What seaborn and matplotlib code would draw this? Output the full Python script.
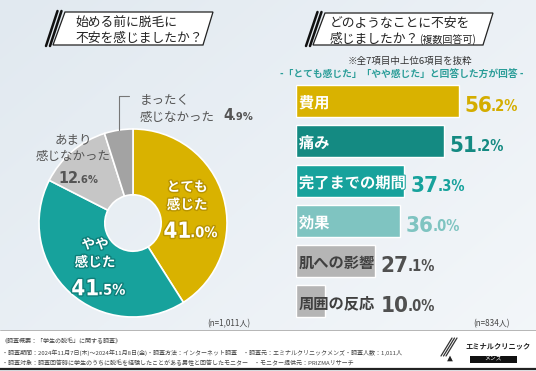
import matplotlib
matplotlib.use("Agg")
import matplotlib.pyplot as plt
import matplotlib.colors as mcolors
import matplotlib.patheffects as pe
from matplotlib.patches import Polygon, Rectangle
from matplotlib.lines import Line2D
from matplotlib.text import Annotation
import numpy as np
import pandas as pd
import seaborn as sns

# ---- data ----
pie_labels = ["とても\n感じた", "やや\n感じた", "あまり\n感じなかった", "まったく\n感じなかった"]
pie_values = [41.0, 41.5, 12.6, 4.9]
pie_colors = ["#d9b200", "#17a29c", "#c6c6c6", "#a3a3a3"]

bar_labels = ["費用", "痛み", "完了までの期間", "効果", "肌への影響", "周囲の反応"]
bar_values = [56.2, 51.2, 37.3, 36.0, 27.1, 10.0]
bar_colors = ["#d9b200", "#148a82", "#17a29c", "#7fc4c1", "#b5b5b5", "#b5b5b5"]
value_colors = ["#d4ad00", "#148a82", "#17a29c", "#7fc4c1", "#505050", "#505050"]

title_left = ["始める前に脱毛に", "不安を感じましたか？"]
title_right = ["どのようなことに不安を", "感じましたか？", "(複数回答可)"]
note1 = "※全7項目中上位6項目を抜粋"
note2 = "-「とても感じた」「やや感じた」と回答した方が回答 -"
n_left = "(n=1,011人)"
n_right = "(n=834人)"
footer = [
    "《調査概要：「学生の脱毛」に関する調査》",
    "・調査期間：2024年11月7日(木)〜2024年11月8日(金)・調査方法：インターネット調査　・調査元：エミナルクリニックメンズ・調査人数：1,011人",
    "・調査対象：調査回答時に学生のうちに脱毛を経験したことがある男性と回答したモニター　・モニター提供元：PRIZMAリサーチ",
]

sns.set_theme(style="white")
plt.rcParams['font.family'] = ['Noto Sans CJK JP', 'DejaVu Sans']
NUM_FONT = ['DejaVu Sans']

W, H = 536, 371
fig = plt.figure(figsize=(W / 100, H / 100), dpi=100)


def px(x, y):
    return x / W, 1 - y / H


# background gradient
bg = fig.add_axes([0, 0, 1, 1], zorder=-10)
yy, xx = np.mgrid[0:1:200j, 0:1:300j]
t = 0.55 * xx + 0.45 * yy
c0 = np.array(mcolors.to_rgb("#e1e9f0"))
c1 = np.array(mcolors.to_rgb("#f4f7fa"))
bg.imshow(c0 + (c1 - c0) * t[..., None], extent=[0, 1, 0, 1], aspect='auto')
bg.axis('off')


def title_box(pts, slashes):
    fig.add_artist(Polygon([px(*p) for p in pts], closed=True, transform=fig.transFigure,
                           facecolor='white', edgecolor='#222222', lw=0.9))
    for x0, y0, x1, y1 in slashes:
        a, b = px(x0, y0), px(x1, y1)
        fig.add_artist(Line2D([a[0], b[0]], [a[1], b[1]], color='#111111', lw=1.8,
                              transform=fig.transFigure))


title_box([(65, 12), (213, 12), (203, 45), (53, 45)], [(57.5, 11, 46, 46), (61.5, 11, 50, 46)])
title_box([(325, 13), (493, 13), (483, 45), (313, 45)], [(317.5, 12, 306, 46), (321.5, 12, 310, 46)])

fig.text(*px(75, 23), title_left[0], fontsize=9.2, va='center', color='#222222')
fig.text(*px(75, 38.5), title_left[1], fontsize=9.2, va='center', color='#222222')
fig.text(*px(330, 24), title_right[0], fontsize=9.2, va='center', color='#222222')
tq = fig.text(*px(330, 39.5), title_right[1], fontsize=9.2, va='center', color='#222222')
fig.add_artist(Annotation(title_right[2], xy=(1, 0.5), xycoords=tq, fontsize=7.2,
                          color='#222222', va='center', ha='left'))

fig.text(*px(410, 61), note1, fontsize=6.8, ha='center', va='center', color='#333333')
fig.text(*px(402, 74), note2, fontsize=7, ha='center', va='center', color='#2a9d98', fontweight='bold')


def pct_text(ax, xy, val, big, small, color, coords='data', offset=(0, 0), ha='left', stroke=None):
    whole, dec = f"{val:.1f}".split(".")
    kw = dict(color=color, family=NUM_FONT, fontweight='bold', fontstretch='condensed')
    if stroke:
        kw['path_effects'] = [pe.withStroke(linewidth=2, foreground=stroke)]
    t1 = ax.annotate(whole, xy=xy, xycoords=coords, xytext=offset, textcoords='offset points',
                     ha=ha, va='baseline', fontsize=big, **kw)
    ax.annotate(f".{dec}%", xy=(1, 0), xycoords=t1, xytext=(-0.8, 0.22 * (big - small)),
                textcoords='offset points', ha='left', va='bottom', fontsize=small, **kw)
    return t1


# ---- donut ----
axp = fig.add_axes([33 / W, 1 - 323 / H, 200 / W, 200 / H])
axp.pie(pie_values, colors=pie_colors, startangle=90, counterclock=False,
        wedgeprops=dict(width=0.7, edgecolor='white', linewidth=1.2))
lim = 100 / 94
axp.set_xlim(-lim, lim)
axp.set_ylim(-lim, lim)
axp.set_aspect('equal')
axp.axis('off')

total = sum(pie_values)
mids = (np.cumsum(pie_values) - np.array(pie_values) / 2) / total * 2 * np.pi
strokes = ["#b89400", "#0f7f7a"]
for i in range(2):
    x, y = 0.6 * np.sin(mids[i]), 0.6 * np.cos(mids[i])
    axp.annotate(pie_labels[i], xy=(x, y), xytext=(0, 8), textcoords='offset points',
                 ha='center', va='center', fontsize=9.8, color='white', fontweight='bold',
                 linespacing=1.35, path_effects=[pe.withStroke(linewidth=2, foreground=strokes[i])])
    pct_text(axp, (x, y), pie_values[i], 16, 10.5, 'white', offset=(3, -22), ha='right',
             stroke=strokes[i])

# outside labels
axp.annotate(pie_labels[2], xy=px(73, 148), xycoords='figure fraction', ha='center', va='center',
             fontsize=9, color='#555555', linespacing=1.35)
pct_text(axp, px(78, 183), pie_values[2], 11.5, 8, '#555555', coords='figure fraction', ha='right')

m_top, m_bot = pie_labels[3].split("\n")
fig.text(*px(140, 100), m_top, fontsize=9, color='#555555', va='center')
fig.text(*px(140, 117), m_bot, fontsize=9, color='#555555', va='center')
pct_text(axp, px(233, 120), pie_values[3], 11.5, 8, '#555555', coords='figure fraction', ha='right')

a3 = mids[3]
lx, ly = np.sin(a3), np.cos(a3)
top_y = (223 - 96) / 94
axp.plot([lx, lx, lx + 0.11], [ly, top_y, top_y], color='#777777', lw=0.8, clip_on=False)

# ---- bars ----
df = pd.DataFrame({"item": bar_labels, "pct": bar_values})
axb = fig.add_axes([296 / W, 1 - 321 / H, 240 / W, 240 / H])
sns.barplot(data=df, x="pct", y="item", hue="item", palette=bar_colors, legend=False,
            width=0.8, saturation=1, ax=axb)
axb.set_xlim(0, 240 / 2.9)
axb.set_ylim(5.5, -0.5)
axb.axis('off')

label_texts = []
for i, lab in enumerate(bar_labels):
    col = 'white' if i < 4 else '#404040'
    kw = {}
    if i < 4:
        kw['path_effects'] = [pe.withStroke(linewidth=1.5, foreground=bar_colors[i])]
    label_texts.append(axb.text(1.0, i + 0.05, lab, ha='left', va='center', fontsize=11,
                                fontweight='bold', color=col, **kw))

fig.canvas.draw()
r = fig.canvas.get_renderer()
inv = axb.transData.inverted()
for i, (tl, v) in enumerate(zip(label_texts, bar_values)):
    x_end = inv.transform(tl.get_window_extent(r))[1, 0]
    pct_text(axb, (max(v, x_end) + 1.8, i + 0.27), v, 16, 10.5, value_colors[i])

fig.text(*px(250, 324), n_left, fontsize=5.8, ha='right', va='center', color='#444444')
fig.text(*px(510, 324), n_right, fontsize=5.8, ha='right', va='center', color='#444444')

# ---- footer ----
fig.add_artist(Rectangle(px(0, 368), 1, (368 - 330) / H, transform=fig.transFigure,
                         facecolor='white', edgecolor='none', zorder=0.5))
fig.add_artist(Line2D([0, 1], [px(0, 330)[1]] * 2, color='#aaaaaa', lw=0.6, transform=fig.transFigure))
fig.add_artist(Line2D([0, 1], [px(0, 368.5)[1]] * 2, color='#222222', lw=1.6, transform=fig.transFigure))
for yv, line in zip([341, 352.5, 363], footer):
    fig.text(*px(2, yv), line, fontsize=4.35, va='center', color='#444444')

# logo
for k in range(3):
    a, b = px(452 + k * 2.5, 338), px(441 + k * 2.5, 356)
    fig.add_artist(Line2D([a[0], b[0]], [a[1], b[1]], color='#333333', lw=0.9, transform=fig.transFigure))
fig.add_artist(Polygon([px(446, 362), px(450, 354), px(454, 362)], closed=True,
                       transform=fig.transFigure, facecolor='#222222'))
fig.text(*px(465, 346), "エミナルクリニック", fontsize=5.2, fontweight='bold', va='center', color='#222222')
fig.add_artist(Rectangle(px(470, 362.5), 47 / W, 7 / H, transform=fig.transFigure,
                         facecolor='#111111', edgecolor='none'))
fig.text(*px(493.5, 359), "メンズ", fontsize=4.2, ha='center', va='center', color='white')

fig.savefig("out.png", dpi=100)
